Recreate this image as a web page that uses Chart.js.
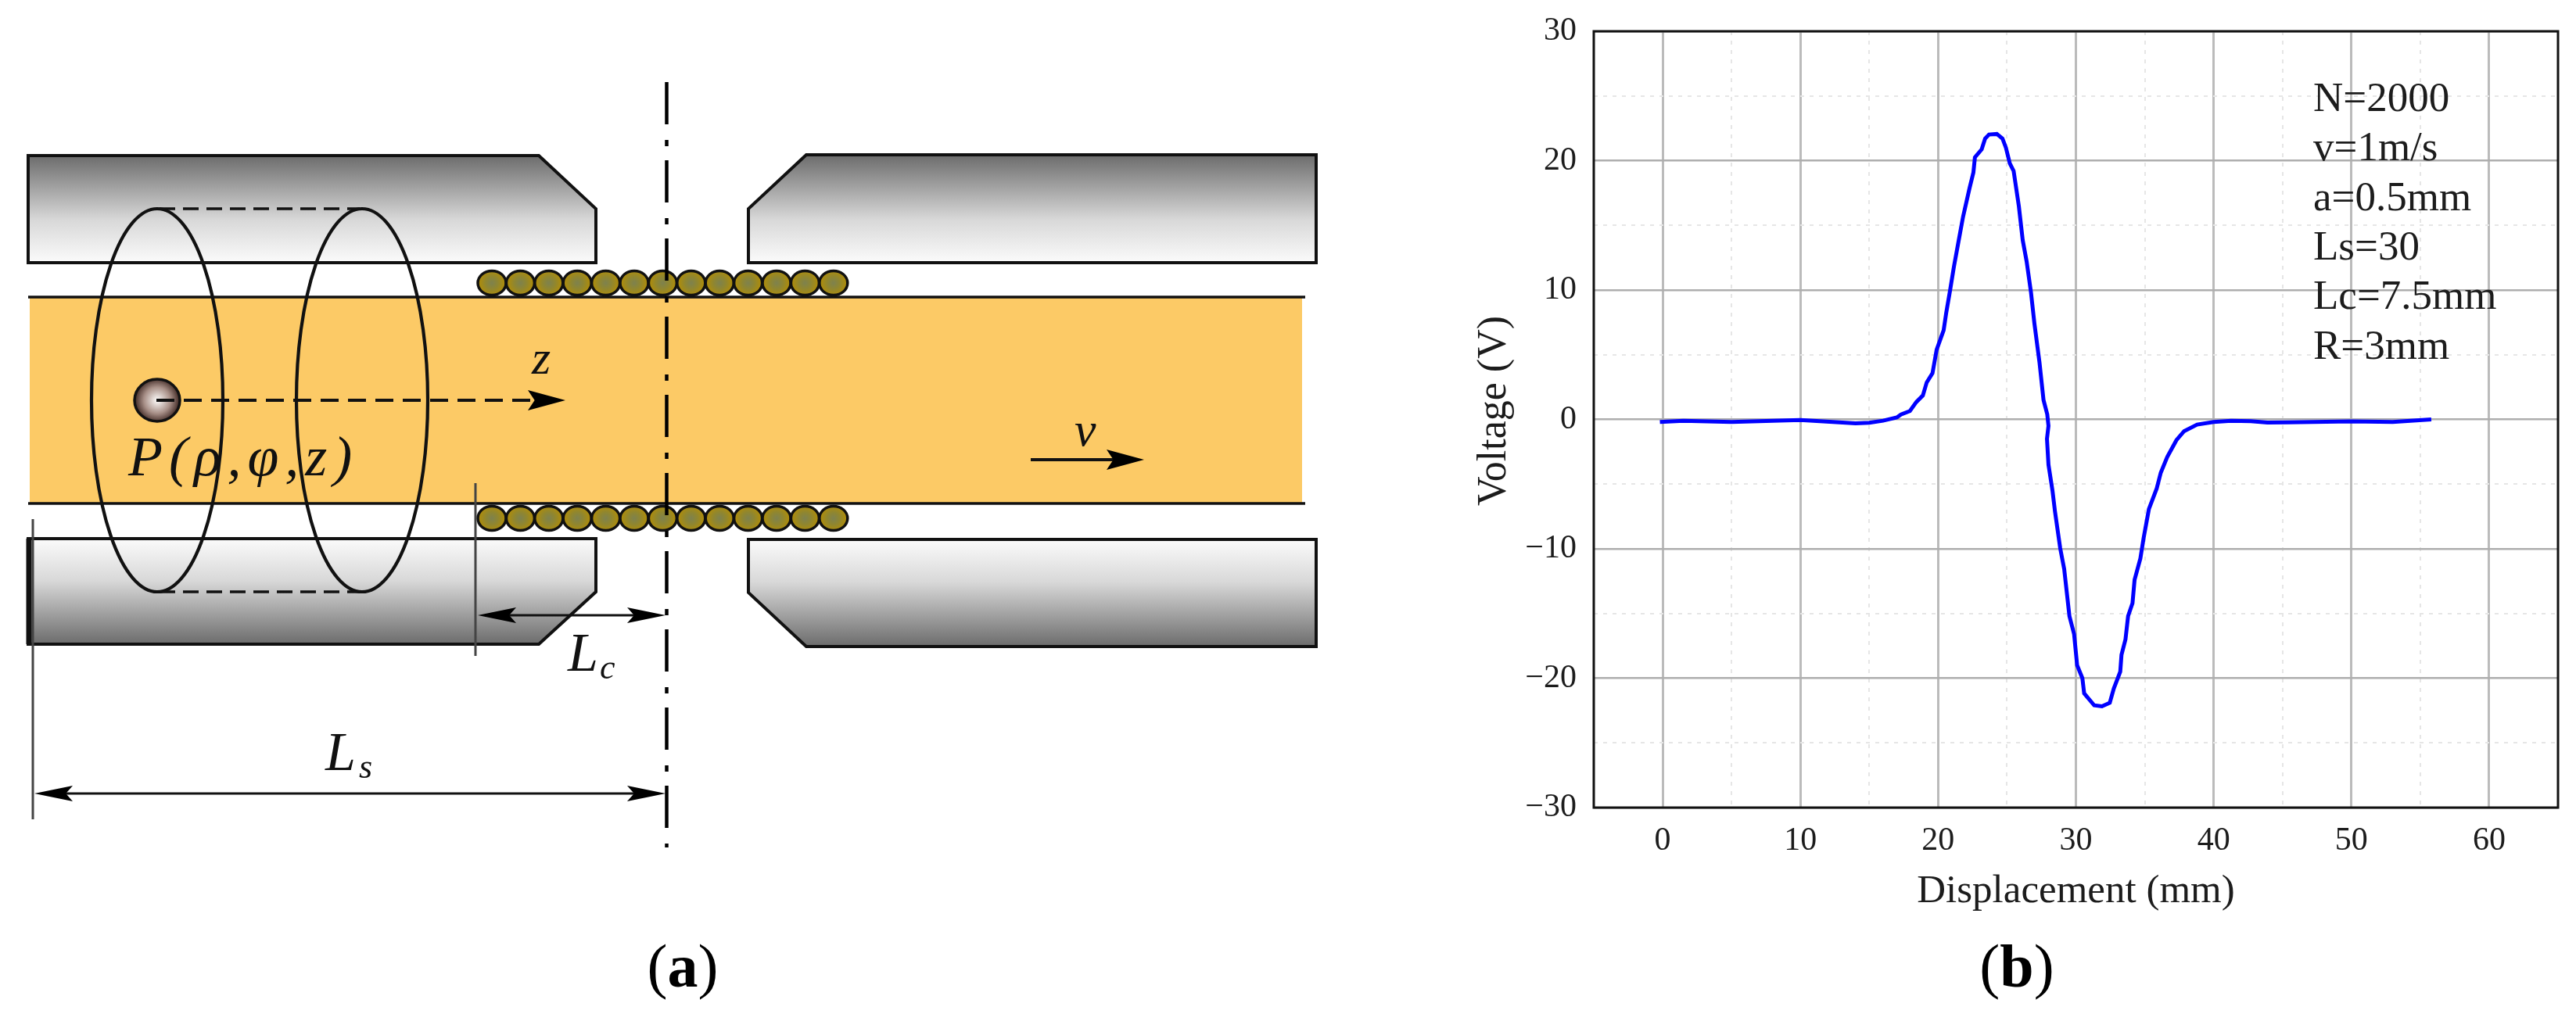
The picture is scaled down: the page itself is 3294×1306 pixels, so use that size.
<!DOCTYPE html>
<html>
<head>
<meta charset="utf-8">
<title>Voltage vs displacement</title>
<script src="https://cdn.jsdelivr.net/npm/chart.js@4"></script>
<style>
    html, body { margin: 0; padding: 0; background: #fff; }
    canvas { display: block; }
</style>
</head>
<body>
<canvas id="chart" width="3294" height="1306"></canvas>
<script>
// Curve
const displacement = [
    -0.2, 1.5, 5, 10, 14, 15, 16, 17, 17.3, 17.95, 18.42, 18.89, 19.17, 19.59, 19.89, 20.4,
    20.58, 20.87, 21.15, 21.53, 21.81, 22.28, 22.56, 22.67, 23.16, 23.41, 23.69, 24.26, 24.67, 24.92, 25.2, 25.48,
    25.86, 26.14, 26.42, 26.74, 26.99, 27.36, 27.65, 27.92, 28.01, 27.9, 28.01, 28.3, 28.48, 28.86, 29.15, 29.53,
    29.87, 30.09, 30.47, 30.6, 31.33, 31.89, 32.46, 32.75, 33.22, 33.31, 33.6, 33.79, 34.11, 34.26, 34.68, 34.92,
    35.3, 35.87, 36.16, 36.63, 37.3, 37.86, 38.8, 40, 41.27, 42.7, 43.9, 45.4, 50, 53, 55.8
];
const voltage = [
    -0.2, -0.1, -0.2, -0.05, -0.3, -0.25, -0.1, 0.15, 0.38, 0.65, 1.35, 1.85, 2.86, 3.57, 5.38, 6.9,
    8.2, 10, 11.83, 14.05, 15.67, 17.88, 19.09, 20.26, 20.87, 21.71, 22.02, 22.06, 21.71, 21, 19.8, 19.2,
    16.47, 13.85, 12.24, 9.82, 7.4, 4.38, 1.5, 0.4, -0.5, -1.5, -3.5, -5.5, -7.1, -9.95, -11.56, -15.2,
    -16.6, -19, -20, -21.17, -22.1, -22.17, -21.9, -20.8, -19.5, -18.2, -17, -15.2, -14.2, -12.4, -10.75, -9.15,
    -6.93, -5.33, -4.12, -2.91, -1.6, -0.9, -0.4, -0.2, -0.1, -0.14, -0.24, -0.22, -0.15, -0.2, 0
];

const xLabelTicks = [0, 10, 20, 30, 40, 50, 60];
const xMinorTicks = [5, 15, 25, 35, 45, 55];
const yLabelTicks = [-30, -20, -10, 0, 10, 20, 30];
const yMinorTicks = [-25, -15, -5, 5, 15, 25];

const paramLines = ['N=2000', 'v=1m/s', 'a=0.5mm', 'Ls=30', 'Lc=7.5mm', 'R=3mm'];
const xTitle = 'Displacement (mm)';
const yTitle = 'Voltage (V)';

const SERIF = '"Liberation Serif", serif';
const INK = '#1c1c1c';

function arrowHead(ctx, tipX, y, dir, len, half) {
    ctx.beginPath();
    ctx.moveTo(tipX, y);
    ctx.lineTo(tipX - dir * len, y - half);
    ctx.lineTo(tipX - dir * len * 0.82, y);
    ctx.lineTo(tipX - dir * len, y + half);
    ctx.closePath();
    ctx.fill();
}

function drawBlock(ctx, pts, yDark, yLight) {
    const g = ctx.createLinearGradient(0, yDark, 0, yLight);
    g.addColorStop(0, '#6c6c6c');
    g.addColorStop(0.6, '#d8d8d8');
    g.addColorStop(1, '#fbfbfb');
    ctx.beginPath();
    pts.forEach((p, i) => i ? ctx.lineTo(p[0], p[1]) : ctx.moveTo(p[0], p[1]));
    ctx.closePath();
    ctx.fillStyle = g;
    ctx.fill();
    ctx.strokeStyle = '#111';
    ctx.lineWidth = 4;
    ctx.stroke();
}

function drawCoils(ctx, y) {
    for (let i = 0; i < 13; i++) {
        const cx = 629 + i * 36.4;
        const g = ctx.createRadialGradient(cx, y, 1, cx, y, 16);
        g.addColorStop(0, '#80824a');
        g.addColorStop(0.45, '#8f8630');
        g.addColorStop(1, '#ad8c0c');
        ctx.beginPath();
        ctx.ellipse(cx, y, 18, 15.5, 0, 0, Math.PI * 2);
        ctx.fillStyle = g;
        ctx.fill();
        ctx.strokeStyle = '#111';
        ctx.lineWidth = 3.5;
        ctx.stroke();
    }
}

function label(ctx, text, x, y, font, align) {
    ctx.font = font;
    ctx.textAlign = align || 'left';
    ctx.textBaseline = 'alphabetic';
    ctx.fillText(text, x, y);
}

function panelLabel(ctx, letter, cx, y) {
    const regular = '78px ' + SERIF;
    const bold = 'bold 78px ' + SERIF;
    ctx.fillStyle = '#000';
    ctx.font = regular;
    const wp = ctx.measureText('(').width;
    ctx.font = bold;
    const wl = ctx.measureText(letter).width;
    const left = cx - (wp * 2 + wl) / 2;
    label(ctx, '(', left, y, regular);
    label(ctx, letter, left + wp, y, bold);
    label(ctx, ')', left + wp + wl, y, regular);
}

// Schematic on the left, it is not data so it lives in canvas pixels
function drawSchematic(ctx) {
    ctx.save();
    ctx.lineJoin = 'miter';

    // magnet blocks
    drawBlock(ctx, [[36, 199], [689, 199], [762, 267], [762, 336], [36, 336]], 199, 336);
    drawBlock(ctx, [[36, 689], [762, 689], [762, 757], [689, 824], [36, 824]], 824, 689);
    drawBlock(ctx, [[1031, 198], [1683, 198], [1683, 336], [957, 336], [957, 267]], 198, 336);
    drawBlock(ctx, [[957, 690], [1683, 690], [1683, 827], [1031, 827], [957, 758]], 827, 690);

    // lower left block has a heavier end
    ctx.strokeStyle = '#111';
    ctx.lineWidth = 7;
    ctx.beginPath();
    ctx.moveTo(37, 689); ctx.lineTo(37, 824);
    ctx.stroke();

    // rod
    ctx.fillStyle = '#fcca66';
    ctx.fillRect(38, 380, 1627, 264);
    ctx.lineWidth = 3.5;
    ctx.beginPath();
    ctx.moveTo(36, 380); ctx.lineTo(1669, 380);
    ctx.moveTo(36, 644); ctx.lineTo(1669, 644);
    ctx.stroke();

    drawCoils(ctx, 362);
    drawCoils(ctx, 663);

    // ball
    const ball = ctx.createRadialGradient(201, 512, 2, 201, 512, 29);
    ball.addColorStop(0, '#f4f0ee');
    ball.addColorStop(0.55, '#a89088');
    ball.addColorStop(1, '#3c2520');
    ctx.beginPath();
    ctx.ellipse(201, 512, 29, 27, 0, 0, Math.PI * 2);
    ctx.fillStyle = ball;
    ctx.fill();
    ctx.strokeStyle = '#111';
    ctx.lineWidth = 3.5;
    ctx.stroke();

    // ring of the sensing volume
    ctx.lineWidth = 4.2;
    ctx.beginPath();
    ctx.ellipse(201, 512, 84, 245, 0, 0, Math.PI * 2);
    ctx.moveTo(547, 512);
    ctx.ellipse(463, 512, 84, 245, 0, 0, Math.PI * 2);
    ctx.stroke();

    ctx.lineWidth = 3.5;
    ctx.setLineDash([20, 10]);
    ctx.beginPath();
    ctx.moveTo(204, 267); ctx.lineTo(460, 267);
    ctx.moveTo(204, 757); ctx.lineTo(460, 757);
    ctx.stroke();

    ctx.lineWidth = 4;
    ctx.setLineDash([23, 12]);
    ctx.beginPath();
    ctx.moveTo(200, 512); ctx.lineTo(690, 512);
    ctx.stroke();
    ctx.setLineDash([]);

    ctx.fillStyle = '#000';
    arrowHead(ctx, 723, 512, 1, 48, 13);

    // speed arrow
    ctx.lineWidth = 4;
    ctx.beginPath();
    ctx.moveTo(1318, 588); ctx.lineTo(1440, 588);
    ctx.stroke();
    arrowHead(ctx, 1463, 588, 1, 48, 13);

    // dimension lines
    ctx.strokeStyle = '#444';
    ctx.lineWidth = 3;
    ctx.beginPath();
    ctx.moveTo(608, 618); ctx.lineTo(608, 839);
    ctx.moveTo(42, 664); ctx.lineTo(42, 1048);
    ctx.stroke();
    ctx.strokeStyle = '#111';
    ctx.beginPath();
    ctx.moveTo(620, 787); ctx.lineTo(840, 787);
    ctx.moveTo(55, 1015); ctx.lineTo(840, 1015);
    ctx.stroke();
    arrowHead(ctx, 611, 787, -1, 49, 10);
    arrowHead(ctx, 851, 787, 1, 49, 10);
    arrowHead(ctx, 44, 1015, -1, 49, 10);
    arrowHead(ctx, 851, 1015, 1, 49, 10);

    // centre line
    ctx.strokeStyle = '#000';
    ctx.lineWidth = 4.5;
    ctx.setLineDash([54, 20, 8, 18]);
    ctx.beginPath();
    ctx.moveTo(852.5, 105); ctx.lineTo(852.5, 1084);
    ctx.stroke();
    ctx.setLineDash([]);

    // math labels
    const italic = px => 'italic ' + px + 'px ' + SERIF;
    ctx.fillStyle = '#111';
    label(ctx, 'z', 680, 478, italic(62));
    ctx.letterSpacing = '8px';
    label(ctx, 'P(ρ,φ,z)', 164, 608, italic(72));
    ctx.letterSpacing = '0px';
    label(ctx, 'v', 1374, 570, italic(62));
    label(ctx, 'L', 726, 858, italic(70));
    label(ctx, 'c', 767, 868, italic(44));
    label(ctx, 'L', 416, 985, italic(70));
    label(ctx, 's', 459, 995, italic(44));

    panelLabel(ctx, 'a', 873, 1262);
    panelLabel(ctx, 'b', 2579, 1262);
    ctx.restore();
}

const picturePlugin = {
    id: 'picture',
    afterLayout(chart) {
        // the y title sits a little above the middle of the axis
        chart.scales.y.top -= 22;
    },
    beforeDraw(chart) {
        drawSchematic(chart.ctx);
    },
    beforeDatasetsDraw(chart) {
        const a = chart.chartArea;
        const ctx = chart.ctx;
        ctx.save();
        ctx.strokeStyle = '#111';
        ctx.lineWidth = 3;
        ctx.strokeRect(a.left, a.top, a.right - a.left, a.bottom - a.top);
        ctx.restore();
    },
    afterDatasetsDraw(chart) {
        const ctx = chart.ctx;
        ctx.save();
        ctx.fillStyle = INK;
        paramLines.forEach((t, i) => {
            label(ctx, t, 2958, 142 + i * 63.3, '53px ' + SERIF);
        });
        ctx.restore();
    }
};

const isLabelled = (list, v) => list.includes(v);
const gridColor = (list, strong) => ctx => isLabelled(list, ctx.tick.value) ? strong : '#e6e6e6';
const gridDash = list => ctx => isLabelled(list, ctx.tick.value) ? [] : [5, 7];
const tickText = list => v => isLabelled(list, v) ? String(v).replace('-', '\u2212') : '';

new Chart(document.getElementById('chart').getContext('2d'), {
    type: 'line',
    data: {
        datasets: [{
            data: displacement.map((x, i) => ({ x: x, y: voltage[i] })),
            borderColor: '#0000ff',
            borderWidth: 5,
            pointRadius: 0,
            tension: 0,
            fill: false
        }]
    },
    options: {
        responsive: false,
        animation: false,
        devicePixelRatio: 1,
        layout: { padding: { left: 1880, right: 23, top: 40, bottom: 135 } },
        plugins: { legend: { display: false }, tooltip: { enabled: false } },
        scales: {
            x: {
                type: 'linear',
                min: -5,
                max: 65,
                afterBuildTicks: s => { s.ticks = xLabelTicks.concat(xMinorTicks).sort((a, b) => a - b).map(v => ({ value: v })); },
                afterFit: s => { s.height = 138; s.paddingLeft = 0; s.paddingRight = 0; },
                grid: { color: gridColor(xLabelTicks, '#bbbbbb'), lineWidth: ctx => isLabelled(xLabelTicks, ctx.tick.value) ? 3 : 2, drawTicks: false },
                border: { display: false, dash: gridDash(xLabelTicks) },
                ticks: {
                    autoSkip: false,
                    maxRotation: 0,
                    padding: 18,
                    color: INK,
                    font: { family: SERIF, size: 42 },
                    callback: tickText(xLabelTicks)
                },
                title: { display: true, text: xTitle, color: INK, padding: 0, font: { family: SERIF, size: 51 } }
            },
            y: {
                min: -30,
                max: 30,
                afterBuildTicks: s => { s.ticks = yLabelTicks.concat(yMinorTicks).sort((a, b) => a - b).map(v => ({ value: v })); },
                afterFit: s => { s.width = 158; s.paddingTop = 0; s.paddingBottom = 0; },
                grid: { color: gridColor(yLabelTicks, '#aeaeae'), lineWidth: ctx => isLabelled(yLabelTicks, ctx.tick.value) ? 2.5 : 2, drawTicks: false },
                border: { display: false, dash: gridDash(yLabelTicks) },
                ticks: {
                    autoSkip: false,
                    padding: 22,
                    color: INK,
                    font: { family: SERIF, size: 42 },
                    callback: tickText(yLabelTicks)
                },
                title: { display: true, text: yTitle, color: INK, padding: 0, font: { family: SERIF, size: 52 } }
            }
        }
    },
    plugins: [picturePlugin]
});
</script>
</body>
</html>
